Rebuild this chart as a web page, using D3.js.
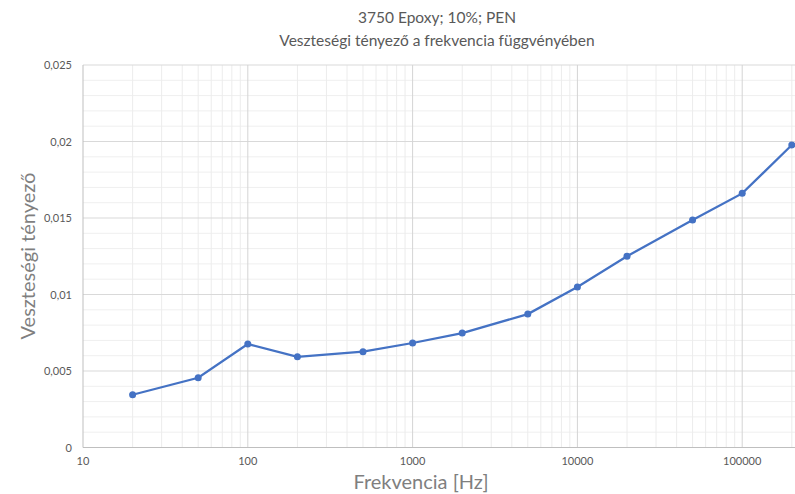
<!DOCTYPE html>
<html lang="hu">
<head>
  <meta charset="UTF-8" />
  <title>3750 Epoxy; 10%; PEN</title>
  <script src="https://d3js.org/d3.v7.min.js"></script>
  <style>
    html, body { margin: 0; padding: 0; background: #fff; }
    svg { font-family: Lato, "Open Sans", sans-serif; display: block; }
    .line { fill: none; stroke: #4472c4; stroke-width: 2.25px; }
    .dot { fill: #4472c4; }
    .tick-label { font-size: 11px; fill: #595959; }
  </style>
</head>
<body>
  <svg width="795" height="494"></svg>

  <script>
    const freq = [20, 50, 100, 200, 500, 1000, 2000, 5000, 10000, 20000, 50000, 100000, 200000];
    const loss = [0.00345, 0.00456, 0.00676, 0.00593, 0.00626, 0.00683, 0.00748, 0.00872,
                  0.01049, 0.0125, 0.01487, 0.01661, 0.01977];
    const yTicks = [0, 0.005, 0.01, 0.015, 0.02, 0.025];
    const xTicks = [10, 100, 1000, 10000, 100000];

    const plotLeft = 83, plotTop = 65, plotBottom = 447.5;
    const decade = 164.8;

    const svg = d3.select("svg");

    // log x axis: 10 at the left edge, runs past the right side of the window
    const x = d3.scaleLog()
      .domain([10, 250000])
      .range([plotLeft, plotLeft + decade * Math.log10(25000)]);

    const y = d3.scaleLinear()
      .domain([0, 0.025])
      .range([plotBottom, plotTop]);

    const grid = svg.append("g");

    // minor horizontal grid (every 0.001)
    grid.selectAll(".hminor")
      .data(d3.range(1, 25).filter(i => i % 5 !== 0).map(i => i / 1000))
      .join("line")
      .attr("x1", plotLeft).attr("x2", 795)
      .attr("y1", d => y(d)).attr("y2", d => y(d))
      .attr("stroke", "#efefef").attr("stroke-width", 1);

    // minor vertical grid (2..9 per decade)
    const minorX = [];
    for (let p = 1; p <= 5; p++) {
      for (let m = 2; m <= 9; m++) minorX.push(m * Math.pow(10, p));
    }
    grid.selectAll(".vminor")
      .data(minorX.filter(v => x(v) < 795))
      .join("line")
      .attr("x1", d => x(d)).attr("x2", d => x(d))
      .attr("y1", plotTop).attr("y2", plotBottom)
      .attr("stroke", "#ececec").attr("stroke-width", 1);

    // major horizontal grid
    grid.selectAll(".hmajor")
      .data(yTicks.slice(1))
      .join("line")
      .attr("x1", plotLeft).attr("x2", 795)
      .attr("y1", d => y(d)).attr("y2", d => y(d))
      .attr("stroke", "#d9d9d9").attr("stroke-width", 1);

    // major vertical grid
    grid.selectAll(".vmajor")
      .data(xTicks.slice(1))
      .join("line")
      .attr("x1", d => x(d)).attr("x2", d => x(d))
      .attr("y1", plotTop).attr("y2", plotBottom)
      .attr("stroke", "#d4d4d4").attr("stroke-width", 1);

    // axis lines
    svg.append("line")
      .attr("x1", plotLeft).attr("x2", plotLeft)
      .attr("y1", plotTop).attr("y2", plotBottom)
      .attr("stroke", "#bfbfbf");
    svg.append("line")
      .attr("x1", plotLeft).attr("x2", 795)
      .attr("y1", plotBottom).attr("y2", plotBottom)
      .attr("stroke", "#bfbfbf");

    // tick labels
    const fmt = d => String(d).replace(".", ",");
    svg.selectAll(".ylab")
      .data(yTicks)
      .join("text")
      .attr("class", "tick-label")
      .attr("x", 72)
      .attr("y", d => y(d) + 4)
      .attr("text-anchor", "end")
      .text(fmt);

    svg.selectAll(".xlab")
      .data(xTicks)
      .join("text")
      .attr("class", "tick-label")
      .attr("x", d => x(d))
      .attr("y", 465)
      .attr("text-anchor", "middle")
      .text(d => d);

    // series
    const pts = freq.map((f, i) => ({ f, v: loss[i] }));
    const line = d3.line()
      .x(d => x(d.f))
      .y(d => y(d.v));

    svg.append("path")
      .datum(pts)
      .attr("class", "line")
      .attr("d", line);

    svg.selectAll(".dot")
      .data(pts)
      .join("circle")
      .attr("class", "dot")
      .attr("cx", d => x(d.f))
      .attr("cy", d => y(d.v))
      .attr("r", 3.5);

    // titles
    svg.append("text")
      .attr("x", 437).attr("y", 23)
      .attr("text-anchor", "middle")
      .attr("font-size", 15.5).attr("fill", "#595959")
      .text("3750 Epoxy; 10%; PEN");
    svg.append("text")
      .attr("x", 437).attr("y", 46)
      .attr("text-anchor", "middle")
      .attr("font-size", 15.5).attr("fill", "#595959")
      .text("Veszteségi tényező a frekvencia függvényében");

    svg.append("text")
      .attr("x", 421).attr("y", 489)
      .attr("text-anchor", "middle")
      .attr("font-size", 20).attr("fill", "#7f7f7f")
      .text("Frekvencia [Hz]");

    svg.append("text")
      .attr("transform", "translate(35,256) rotate(-90)")
      .attr("text-anchor", "middle")
      .attr("font-size", 20).attr("fill", "#7f7f7f")
      .text("Veszteségi tényező");
  </script>
</body>
</html>
